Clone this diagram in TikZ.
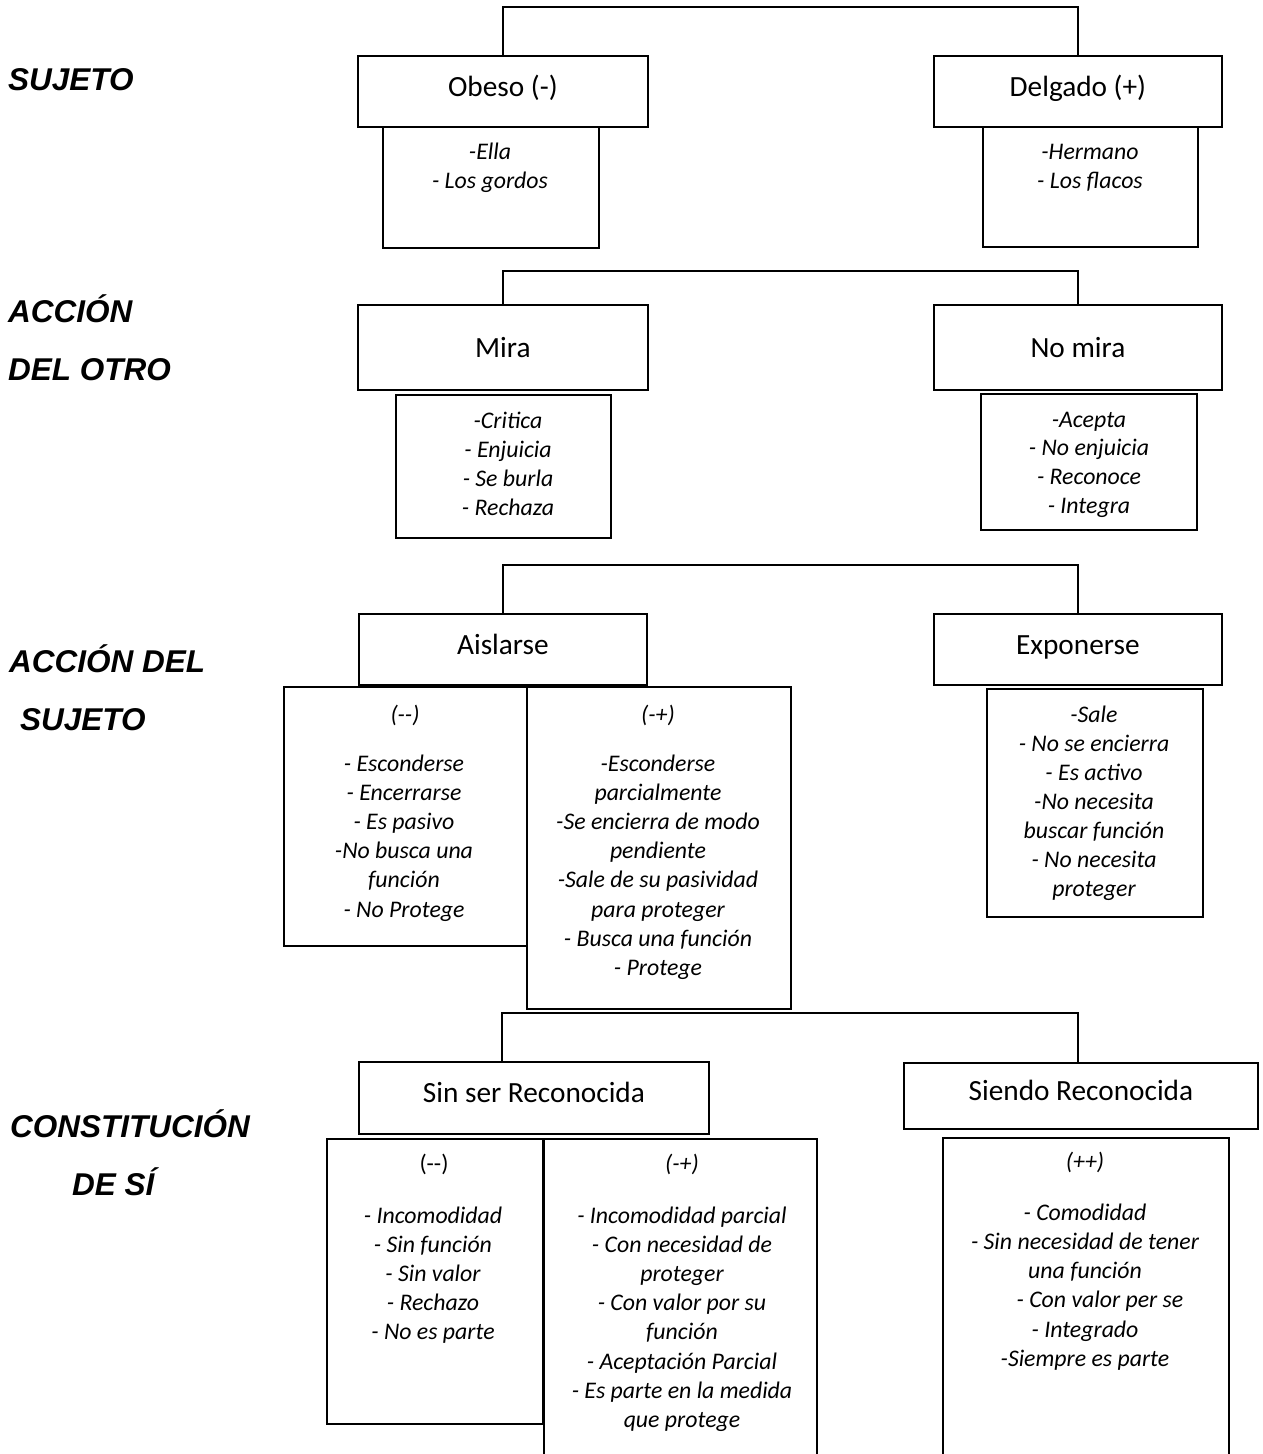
\documentclass[tikz,border=0pt]{standalone}
\usepackage{fontspec}
\setmainfont{Carlito}
\newfontfamily\headfont{Liberation Sans}

% one line per node, stacked at a fixed baseline distance
\newcommand\linelist[5]{% name, x, first baseline, baseline step, lines
  \foreach \t [count=\i from 0] in {#5} {%
    \node[items] (#1-\i) at (#2, #3+#4*\i) {\t};}}

\begin{document}
\begin{tikzpicture}[x=1pt,y=-1pt,
  box/.style={draw, line width=1.8pt, rectangle, inner sep=0pt, anchor=north west,
              text height=19pt, text depth=9pt,
              font=\fontsize{29.3}{34}\selectfont},
  lowtitle/.style={text height=25pt, text depth=4pt},
  items/.style={font=\fontsize{23.8}{28}\selectfont\itshape, anchor=base, inner sep=0pt},
  hdr/.style={items},
  uphdr/.style={font=\fontsize{23.8}{28}\selectfont, anchor=base, inner sep=0pt},
  level/.style={font=\headfont\fontsize{31.5}{36}\selectfont\bfseries\itshape,
                anchor=base west, inner sep=0pt},
  link/.style={line width=1.8pt}]

\clip (0,0) rectangle (1262,1454);

% ---- row labels ----
\node[level] (l1)  at (8,90)    {SUJETO};
\node[level] (l2a) at (8,322)   {ACCIÓN};
\node[level] (l2b) at (8,380)   {DEL OTRO};
\node[level] (l3a) at (9,672)   {ACCIÓN DEL};
\node[level] (l3b) at (20,730)  {SUJETO};
\node[level] (l4a) at (10,1137) {CONSTITUCIÓN};
\node[level] (l4b) at (72,1195) {DE SÍ};

% ---- level 1: sujeto ----
\node[box, minimum width=290pt, minimum height=71pt] (obeso) at (357,55) {Obeso (-)};
\node[box, minimum width=288pt, minimum height=71pt] (delgado) at (933,55) {Delgado (+)};
\node[box, minimum width=216pt, minimum height=121pt] (obesoS) at (382,126) {};
\node[box, minimum width=215pt, minimum height=120pt] (delgadoS) at (982,126) {};
\coordinate (j1) at (790,7);
\draw[link] (obeso.north) |- (j1) -| (delgado.north);
\linelist{obT}{490}{159}{29.5}{-Ella,- Los gordos}
\linelist{deT}{1090}{159}{29.5}{-Hermano,- Los flacos}

% ---- level 2: accion del otro ----
\node[box, lowtitle, minimum width=290pt, minimum height=85pt] (mira) at (357,304) {Mira};
\node[box, lowtitle, minimum width=288pt, minimum height=85pt] (nomira) at (933,304) {No mira};
\node[box, minimum width=215pt, minimum height=143pt] (miraS) at (395,394) {};
\node[box, minimum width=216pt, minimum height=136pt] (nomiraS) at (980,393) {};
\coordinate (j2) at (790,271);
\draw[link] (mira.north) |- (j2) -| (nomira.north);
\linelist{miT}{508}{428}{29.3}{-Critica,- Enjuicia,- Se burla,- Rechaza}
\linelist{nmT}{1089}{427}{28.8}{-Acepta,- No enjuicia,- Reconoce,- Integra}

% ---- level 3: accion del sujeto ----
\node[box, minimum width=288pt, minimum height=71pt] (aislarse) at (358,613) {Aislarse};
\node[box, minimum width=288pt, minimum height=71pt] (exponerse) at (933,613) {Exponerse};
\node[box, minimum width=243pt, minimum height=259pt] (aisA) at (283,686) {};
\node[box, minimum width=264pt, minimum height=322pt] (aisB) at (526,686) {};
\node[box, minimum width=216pt, minimum height=228pt] (expS) at (986,688) {};
\coordinate (j3) at (790,565);
\draw[link] (aislarse.north) |- (j3) -| (exponerse.north);
\node[hdr] (aisAh) at (405,722) {(-{}-)};
\node[hdr] (aisBh) at (658,722) {(-+)};
\linelist{aaT}{404}{771}{29.2}{- Esconderse,- Encerrarse,- Es pasivo,-No busca una,función,- No Protege}
\linelist{abT}{658}{771}{29.2}{-Esconderse,parcialmente,-Se encierra de modo,pendiente,-Sale de su pasividad,para proteger,- Busca una función,- Protege}
\linelist{exT}{1094}{722}{29.0}{-Sale,- No se encierra,- Es activo,-No necesita,buscar función,- No necesita,proteger}

% ---- level 4: constitucion de si ----
\node[box, minimum width=350pt, minimum height=72pt] (sinser) at (358,1061) {Sin ser Reconocida};
\node[box, minimum width=354pt, minimum height=66pt] (siendo) at (903,1062) {Siendo Reconocida};
\node[box, minimum width=216pt, minimum height=285pt] (sinA) at (326,1138) {};
\node[box, minimum width=273pt, minimum height=340pt] (sinB) at (543,1138) {};
\node[box, minimum width=286pt, minimum height=340pt] (siendoS) at (942,1137) {};
\coordinate (j4a) at (502,1013);
\coordinate (j4b) at (1078,1013);
\draw[link] (sinser.north -| j4a) -- (j4a) -- (j4b) -- (siendo.north -| j4b);
\node[uphdr] (sinAh) at (434,1171) {(-{}-)};
\node[hdr] (sinBh) at (682,1171) {(-+)};
\node[hdr] (siendoh) at (1085,1169) {(++)};
\linelist{saT}{433}{1223}{29.2}{- Incomodidad,- Sin función,- Sin valor,- Rechazo,- No es parte}
\linelist{sbT}{682}{1223}{29.2}{- Incomodidad parcial,- Con necesidad de,proteger,- Con valor por su,función,- Aceptación Parcial,- Es parte en la medida,que protege}
\linelist{srT}{1085}{1220}{29.25}{- Comodidad,- Sin necesidad de tener,una función,\hspace*{30pt}- Con valor per se,- Integrado,-Siempre es parte}

\end{tikzpicture}
\end{document}
